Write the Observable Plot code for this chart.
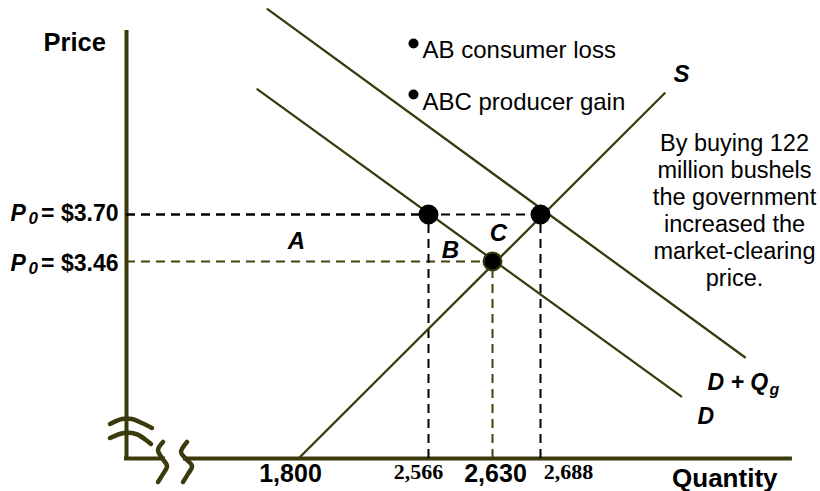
<!DOCTYPE html>
<html><head><meta charset="utf-8">
<script src="https://cdn.jsdelivr.net/npm/d3@7"></script>
<script src="https://cdn.jsdelivr.net/npm/@observablehq/plot@0.6"></script>
<style>body{margin:0;background:#fff}#chart svg{display:block}</style>
</head><body><div id="chart"></div>
<script>
// ---- data (quantity in million bushels, price in $/bushel) ----
const priceTicks = [3.70, 3.46];
const priceTickLabels = ["= $3.70", "= $3.46"];
const qtyTicks = [1800, 2566, 2630, 2688];
const qtyTickLabels = ["1,800", "2,566", "2,630", "2,688"];
const supplyQ = [1800, 2838];
const supplyP = [0, 4.32];
const demandQ = [1371, 2858];
const demandP = [4.34, 2.77];
const demandGovQ = [1476, 2935];
const demandGovP = [4.75, 2.97];
const eqQ = [2566, 2688, 2630];
const eqP = [3.70, 3.70, 3.46];
const bullets = ["AB consumer loss", "ABC producer gain"];
const note = "By buying 122\nmillion bushels\nthe government\nincreased the\nmarket-clearing\nprice.";

// ---- styles ----
const olive = "#3b3a0d";
const dashOlive = "#45430f";
const sans = "Liberation Sans, Arial, sans-serif";
const serif = "Liberation Serif, Times New Roman, serif";
const pts = (Q, P) => Q.map((q, i) => ({q, p: P[i]}));
const eq = pts(eqQ, eqP);

// per-tick label layout
const qtyLabelStyle = [
  {font: sans, size: 25, dx: -8, dy: 23},
  {font: serif, size: 22, dx: -10, dy: 20},
  {font: sans, size: 25, dx: 3, dy: 23},
  {font: serif, size: 22, dx: 28, dy: 20}
];
const priceLabelDy = [6.5, 10];

function axisBreaks(index, scales) {
  const ox = scales.x(0), oy = scales.y(0);
  const g = d3.create("svg:g");
  g.append("rect").attr("x", ox + 39).attr("y", oy - 4).attr("width", 18).attr("height", 8).attr("fill", "#fff");
  const line = d3.line().x(d => ox + d[0]).y(d => oy + d[1]).curve(d3.curveCatmullRom);
  const shapes = [
    [[-16,-34],[-4,-39],[6,-39],[16,-35],[26,-30]],
    [[-16,-20],[-2,-25],[10,-24],[20,-18],[25,-14]],
    [[37,-16],[32,-8],[36,0],[41,8],[37,16],[32,24]],
    [[61,-16],[55,-6],[59,0],[66,8],[62,16],[57,24]]
  ];
  for (const s of shapes) {
    g.append("path").attr("d", line(s)).attr("fill", "none").attr("stroke", olive)
      .attr("stroke-width", 4.5).attr("stroke-linecap", "round");
  }
  return g.node();
}

const free = (text, o) => Plot.text([text], {frameAnchor: "top-left", lineAnchor: "bottom", fontFamily: sans, fill: "#000", ...o});

const marks = [
  // axes
  Plot.ruleX([0], {y1: 0, y2: 4.63, stroke: olive, strokeWidth: 4, strokeLinecap: "square"}),
  Plot.ruleY([0], {x1: 0, x2: 2990, stroke: olive, strokeWidth: 4, strokeLinecap: "square"}),
  axisBreaks,
  // dashed guides
  Plot.ruleY(eq.filter(d => d.q !== 2630), {y: "p", x1: 0, x2: "q", stroke: "#000", strokeWidth: 2, strokeDasharray: "9,6"}),
  Plot.ruleY(eq.filter(d => d.q === 2630), {y: "p", x1: 0, x2: "q", stroke: dashOlive, strokeWidth: 2, strokeDasharray: "9,6"}),
  Plot.ruleX(eq.filter(d => d.q !== 2630), {x: "q", y1: 0, y2: "p", stroke: "#000", strokeWidth: 2, strokeDasharray: "9,6"}),
  Plot.ruleX(eq.filter(d => d.q === 2630), {x: "q", y1: 0, y2: "p", stroke: dashOlive, strokeWidth: 2, strokeDasharray: "9,6"}),
  // curves
  Plot.line(pts(supplyQ, supplyP), {x: "q", y: "p", stroke: olive, strokeWidth: 2.3}),
  Plot.line(pts(demandQ, demandP), {x: "q", y: "p", stroke: olive, strokeWidth: 2.3}),
  Plot.line(pts(demandGovQ, demandGovP), {x: "q", y: "p", stroke: olive, strokeWidth: 2.3}),
  // equilibrium points
  Plot.dot(eq, {x: "q", y: "p", r: 9, fill: "#000", stroke: d => d.q === 2630 ? olive : "#000", strokeWidth: 2}),
  // quantity tick labels
  ...qtyTicks.map((q, i) => Plot.text([q], {x: d => d, y: 0, text: () => qtyTickLabels[i], lineAnchor: "bottom",
    dx: qtyLabelStyle[i].dx, dy: qtyLabelStyle[i].dy, fontFamily: qtyLabelStyle[i].font, fontSize: qtyLabelStyle[i].size, fontWeight: "bold", fill: "#000"})),
  // price tick labels
  ...priceTicks.map((p, i) => Plot.text([p], {x: 0, y: d => d, text: () => priceTickLabels[i], lineAnchor: "bottom", textAnchor: "end",
    dx: -8, dy: priceLabelDy[i], fontFamily: sans, fontSize: 23, fontWeight: "bold", fill: "#000"})),
  ...priceTicks.map((p, i) => Plot.text([p], {x: 0, y: d => d, text: () => "P", lineAnchor: "bottom", textAnchor: "start",
    dx: -116, dy: priceLabelDy[i], fontFamily: sans, fontSize: 23, fontWeight: "bold", fontStyle: "italic", fill: "#000"})),
  ...priceTicks.map((p, i) => Plot.text([p], {x: 0, y: d => d, text: () => "0", lineAnchor: "bottom", textAnchor: "start",
    dx: -98, dy: priceLabelDy[i] + 3, fontFamily: sans, fontSize: 17, fontWeight: "bold", fontStyle: "italic", fill: "#000"})),
  // axis titles
  free("Price", {dx: 43, dy: 50, textAnchor: "start", fontSize: 25.5, fontWeight: "bold"}),
  free("Quantity", {dx: 777, dy: 486, textAnchor: "end", fontSize: 26, fontWeight: "bold"}),
  // area and curve labels
  free("A", {dx: 296, dy: 248, textAnchor: "middle", fontSize: 24, fontWeight: "bold", fontStyle: "italic"}),
  free("B", {dx: 450, dy: 257, textAnchor: "middle", fontSize: 24, fontWeight: "bold", fontStyle: "italic"}),
  free("C", {dx: 498, dy: 240, textAnchor: "middle", fontSize: 24, fontWeight: "bold", fontStyle: "italic"}),
  free("S", {dx: 681, dy: 81, textAnchor: "middle", fontSize: 24, fontWeight: "bold", fontStyle: "italic"}),
  free("D + Q", {dx: 707, dy: 389, textAnchor: "start", fontSize: 23, fontWeight: "bold", fontStyle: "italic"}),
  free("g", {dx: 769, dy: 394, textAnchor: "start", fontSize: 16, fontWeight: "bold", fontStyle: "italic"}),
  free("D", {dx: 697, dy: 423, textAnchor: "start", fontSize: 23, fontWeight: "bold", fontStyle: "italic"}),
  // bullets
  Plot.dot([0], {frameAnchor: "top-left", dx: 413, dy: 43, r: 5, fill: "#000"}),
  Plot.dot([0], {frameAnchor: "top-left", dx: 413, dy: 94, r: 5, fill: "#000"}),
  free(bullets[0], {dx: 422, dy: 57, textAnchor: "start", fontSize: 24}),
  free(bullets[1], {dx: 422, dy: 109, textAnchor: "start", fontSize: 24}),
  // note
  free(note, {dx: 734, dy: 285, textAnchor: "middle", fontSize: 23.5, lineHeight: 27 / 23.5})
];

const chart = Plot.plot({
  width: 820,
  height: 491,
  marginTop: 0, marginRight: 0, marginBottom: 0, marginLeft: 0,
  style: {fontFamily: sans, background: "#fff", overflow: "visible"},
  x: {type: "linear", domain: [0, 1800, 2566, 2630, 2688], range: [126, 298, 428, 492, 540], axis: null},
  y: {type: "linear", domain: [0, 2.57, 3.70], range: [458, 435, 214], axis: null},
  marks
});
document.getElementById("chart").append(chart);
</script>
</body></html>
